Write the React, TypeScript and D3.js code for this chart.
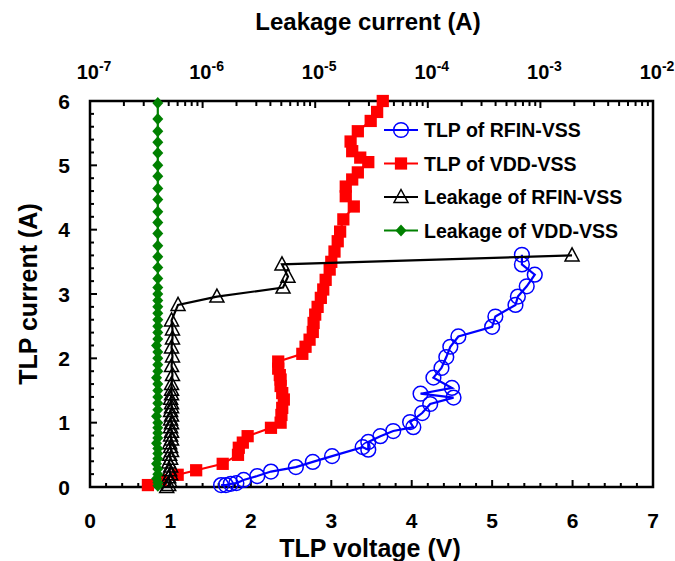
import React, { useEffect, useRef } from "react";
import * as d3 from "d3";

// TLP of RFIN-VSS : voltage (V) / current (A)
const rfinTlpV = [1.63, 1.69, 1.75, 1.82, 1.91, 2.08, 2.25, 2.56, 2.77, 3.01, 3.39, 3.46, 3.46, 3.61, 3.77, 4.02, 3.98, 4.13, 4.23, 4.52, 4.11, 4.5, 4.27, 4.37, 4.43, 4.48, 4.58, 5.0, 5.04, 5.29, 5.32, 5.43, 5.53, 5.37, 5.37];
const rfinTlpI = [0.03, 0.03, 0.05, 0.06, 0.11, 0.17, 0.24, 0.31, 0.39, 0.48, 0.62, 0.58, 0.7, 0.79, 0.87, 0.93, 1.01, 1.15, 1.29, 1.39, 1.45, 1.54, 1.7, 1.85, 2.02, 2.18, 2.34, 2.49, 2.65, 2.83, 2.96, 3.12, 3.3, 3.46, 3.61];

// TLP of VDD-VSS
const vddTlpV = [0.72, 0.88, 1.09, 1.32, 1.65, 1.84, 1.85, 1.9, 1.96, 2.25, 2.37, 2.38, 2.39, 2.41, 2.39, 2.37, 2.37, 2.36, 2.34, 2.34, 2.64, 2.68, 2.73, 2.77, 2.78, 2.8, 2.83, 2.87, 2.9, 2.93, 2.98, 3.0, 3.04, 3.08, 3.11, 3.15, 3.28, 3.18, 3.18, 3.26, 3.33, 3.46, 3.36, 3.26, 3.24, 3.33, 3.49, 3.57, 3.64];
const vddTlpI = [0.03, 0.11, 0.19, 0.26, 0.36, 0.5, 0.61, 0.69, 0.79, 0.92, 1.0, 1.12, 1.23, 1.36, 1.46, 1.57, 1.67, 1.74, 1.84, 1.95, 2.07, 2.18, 2.29, 2.41, 2.55, 2.68, 2.8, 2.94, 3.07, 3.22, 3.38, 3.5, 3.66, 3.82, 3.97, 4.16, 4.36, 4.52, 4.67, 4.78, 4.89, 5.05, 5.12, 5.22, 5.37, 5.53, 5.69, 5.83, 6.0];

// Leakage of RFIN-VSS : leakage (A) / TLP current (A)
const rfinLeakA = [4.8e-7, 5.0e-7, 5.1e-7, 5.0e-7, 5.2e-7, 5.1e-7, 5.2e-7, 5.0e-7, 5.2e-7, 5.1e-7, 5.3e-7, 5.2e-7, 5.1e-7, 5.3e-7, 5.2e-7, 5.3e-7, 5.2e-7, 5.3e-7, 5.2e-7, 5.3e-7, 5.2e-7, 5.3e-7, 5.3e-7, 5.2e-7, 5.3e-7, 5.3e-7, 5.3e-7, 5.4e-7, 5.3e-7, 5.4e-7, 5.3e-7, 5.4e-7, 5.4e-7, 5.3e-7, 6.05e-7, 1.34e-6, 5.18e-6, 5.73e-6, 5.07e-6, 1.91e-3];
const rfinLeakI = [0.0, 0.03, 0.09, 0.15, 0.2, 0.26, 0.32, 0.38, 0.44, 0.5, 0.56, 0.62, 0.68, 0.74, 0.8, 0.86, 0.93, 0.99, 1.05, 1.11, 1.18, 1.24, 1.3, 1.37, 1.44, 1.51, 1.6, 1.74, 1.88, 2.03, 2.17, 2.31, 2.45, 2.59, 2.83, 2.96, 3.1, 3.27, 3.46, 3.6];

// Leakage of VDD-VSS
const vddLeakA = [4.0e-7, 4.0e-7, 3.9e-7, 4.0e-7, 4.0e-7, 3.9e-7, 4.0e-7, 4.0e-7, 4.0e-7, 3.9e-7, 4.0e-7, 4.0e-7, 4.0e-7, 4.0e-7, 3.9e-7, 4.0e-7, 4.0e-7, 4.0e-7, 4.0e-7, 4.0e-7, 3.9e-7, 4.0e-7, 4.0e-7, 4.0e-7, 4.0e-7, 3.9e-7, 4.0e-7, 4.0e-7, 4.0e-7, 4.0e-7, 4.0e-7, 4.0e-7, 4.0e-7, 4.0e-7, 4.0e-7, 4.0e-7, 4.0e-7, 4.0e-7, 4.0e-7, 4.0e-7, 4.0e-7, 4.0e-7, 4.0e-7, 4.0e-7, 4.0e-7, 4.0e-7, 4.0e-7, 4.0e-7, 4.0e-7, 4.0e-7, 4.0e-7];
const vddLeakI = [0.02, 0.07, 0.13, 0.2, 0.28, 0.36, 0.44, 0.52, 0.6, 0.68, 0.76, 0.84, 0.92, 1.0, 1.1, 1.2, 1.3, 1.4, 1.5, 1.6, 1.7, 1.8, 1.9, 2.0, 2.1, 2.2, 2.3, 2.4, 2.5, 2.6, 2.7, 2.8, 2.9, 3.0, 3.1, 3.24, 3.41, 3.58, 3.75, 3.94, 4.11, 4.28, 4.47, 4.64, 4.83, 5.0, 5.19, 5.36, 5.53, 5.72, 5.97];

const seriesNames = ["TLP of RFIN-VSS", "TLP of VDD-VSS", "Leakage of RFIN-VSS", "Leakage of VDD-VSS"];
const voltTicks = [0, 1, 2, 3, 4, 5, 6, 7];
const currentTicks = [0, 1, 2, 3, 4, 5, 6];
const leakExps = [-7, -6, -5, -4, -3, -2];

const W = 675, H = 561;
const FONT = "'Liberation Sans', Arial, sans-serif";

export default function App() {
  const ref = useRef<SVGSVGElement>(null);

  useEffect(() => {
    const svg = d3.select(ref.current);
    svg.selectAll("*").remove();

    const left = 90, right = 653, top = 101, bottom = 487;
    const x = d3.scaleLinear().domain([0, 7]).range([left, right]);
    const xTop = d3.scaleLog().domain([1e-7, 1e-2]).range([left, right]);
    const y = d3.scaleLinear().domain([0, 6]).range([bottom, top]);

    const g = svg.append("g");

    // ticks (inside)
    const minorV = d3.range(0, 7.001, 0.2);
    g.selectAll(".bt").data(minorV).join("line")
      .attr("x1", d => x(d)).attr("x2", d => x(d))
      .attr("y1", bottom).attr("y2", d => bottom - (Math.abs(d - Math.round(d)) < 1e-6 ? 7 : 4))
      .attr("stroke", "#000").attr("stroke-width", 2);
    const minorI = d3.range(0, 6.001, 0.2);
    g.selectAll(".lt").data(minorI).join("line")
      .attr("y1", d => y(d)).attr("y2", d => y(d))
      .attr("x1", left).attr("x2", d => left + (Math.abs(d - Math.round(d)) < 1e-6 ? 7 : 4))
      .attr("stroke", "#000").attr("stroke-width", 2);
    const logTicks: number[] = [];
    leakExps.forEach(e => {
      if (e === -2) { logTicks.push(1e-2); return; }
      for (let k = 1; k < 10; k++) logTicks.push(k * Math.pow(10, e));
    });
    g.selectAll(".tt").data(logTicks).join("line")
      .attr("x1", d => xTop(d)).attr("x2", d => xTop(d))
      .attr("y1", top).attr("y2", (d, i) => top + (i % 9 === 0 ? 7 : 5))
      .attr("stroke", "#000").attr("stroke-width", 2);

    // frame
    g.append("rect").attr("x", left).attr("y", top).attr("width", right - left).attr("height", bottom - top)
      .attr("fill", "none").attr("stroke", "#000").attr("stroke-width", 2.5);

    // tick labels
    g.selectAll(".bl").data(voltTicks).join("text")
      .attr("x", d => x(d)).attr("y", 528).attr("text-anchor", "middle")
      .attr("font-family", FONT).attr("font-weight", "bold").attr("font-size", 21).text(d => d);
    g.selectAll(".ll").data(currentTicks).join("text")
      .attr("x", 70).attr("y", d => y(d) + 7.5).attr("text-anchor", "end")
      .attr("font-family", FONT).attr("font-weight", "bold").attr("font-size", 21).text(d => d);
    const tl = g.selectAll(".tl").data(leakExps).join("text")
      .attr("x", d => xTop(Math.pow(10, d)) + 4).attr("y", 79).attr("text-anchor", "middle")
      .attr("font-family", FONT).attr("font-weight", "bold").attr("font-size", 20);
    tl.append("tspan").text("10");
    tl.append("tspan").attr("dy", -8).attr("font-size", 14).text(d => d);

    // axis titles
    g.append("text").attr("x", 368).attr("y", 30).attr("text-anchor", "middle")
      .attr("font-family", FONT).attr("font-weight", "bold").attr("font-size", 24).text("Leakage current (A)");
    g.append("text").attr("x", 370).attr("y", 557).attr("text-anchor", "middle")
      .attr("font-family", FONT).attr("font-weight", "bold").attr("font-size", 25).text("TLP voltage (V)");
    g.append("text").attr("transform", `translate(37,${(top + bottom) / 2}) rotate(-90)`).attr("text-anchor", "middle")
      .attr("font-family", FONT).attr("font-weight", "bold").attr("font-size", 25).text("TLP current (A)");

    const line = d3.line<[number, number]>();
    const diamond = (w: number, h: number) => `M0,${-h}L${w},0L0,${h}L${-w},0Z`;
    const markers = [
      { path: d3.symbol().type(d3.symbolCircle).size(170)(), fill: "none", stroke: "#0000ff" },
      { path: d3.symbol().type(d3.symbolSquare).size(150)(), fill: "#ff0000", stroke: "none" },
      { path: "M0,-7.5L7,5.5L-7,5.5Z", fill: "none", stroke: "#000" },
      { path: diamond(5.5, 6), fill: "#008000", stroke: "none" },
    ];
    const colors = ["#0000ff", "#ff0000", "#000", "#008000"];

    const series: [number, number][][] = [
      rfinTlpV.map((v, i) => [x(v), y(rfinTlpI[i])]),
      vddTlpV.map((v, i) => [x(v), y(vddTlpI[i])]),
      rfinLeakA.map((v, i) => [xTop(v), y(rfinLeakI[i])]),
      vddLeakA.map((v, i) => [xTop(v), y(vddLeakI[i])]),
    ];

    series.forEach((pts, k) => {
      const sg = g.append("g");
      sg.append("path").attr("d", line(pts)).attr("fill", "none").attr("stroke", colors[k]).attr("stroke-width", 2.2);
      sg.selectAll("path.m").data(pts).join("path").attr("class", "m")
        .attr("transform", d => `translate(${d[0]},${d[1]})`)
        .attr("d", markers[k].path).attr("fill", markers[k].fill)
        .attr("stroke", markers[k].stroke).attr("stroke-width", 1.5);
    });

    // legend
    const leg = g.selectAll(".leg").data(seriesNames).join("g")
      .attr("transform", (d, i) => `translate(384,${130 + i * 33.5})`);
    leg.append("line").attr("x1", 0).attr("x2", 34).attr("stroke", (d, i) => colors[i]).attr("stroke-width", 2.2);
    leg.append("path").attr("transform", "translate(17,0)").attr("d", (d, i) => markers[i].path)
      .attr("fill", (d, i) => markers[i].fill).attr("stroke", (d, i) => markers[i].stroke).attr("stroke-width", 1.5);
    leg.append("text").attr("x", 40).attr("y", 7).attr("font-family", FONT).attr("font-weight", "bold")
      .attr("font-size", 19.5).text(d => d);
  }, []);

  return (
    <svg ref={ref} width={W} height={H} style={{ position: "absolute", left: 0, top: 0, background: "#fff" }} />
  );
}
